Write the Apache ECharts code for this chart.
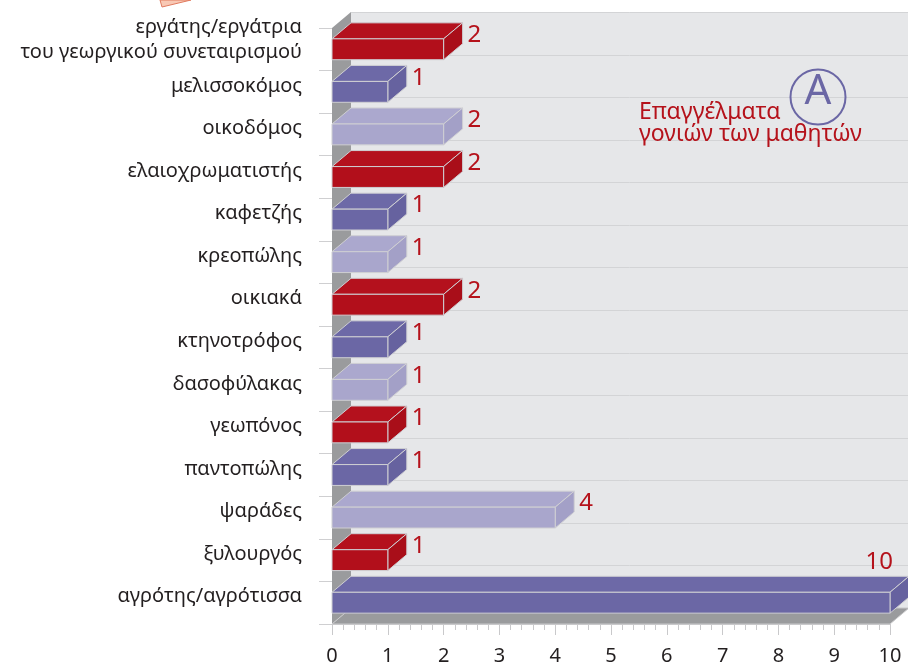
<!DOCTYPE html>
<html>
<head>
<meta charset="utf-8">
<script src="https://cdn.jsdelivr.net/npm/echarts@6/dist/echarts.min.js"></script>
<style>
  html, body { margin: 0; padding: 0; background: #ffffff; }
  #chart { width: 908px; height: 666px; }
</style>
</head>
<body>
<div id="chart"></div>
<script>
// Occupations of the pupils' parents (counts)
const categories = [
  'εργάτης/εργάτρια\nτου γεωργικού συνεταιρισμού',
  'μελισσοκόμος',
  'οικοδόμος',
  'ελαιοχρωματιστής',
  'καφετζής',
  'κρεοπώλης',
  'οικιακά',
  'κτηνοτρόφος',
  'δασοφύλακας',
  'γεωπόνος',
  'παντοπώλης',
  'ψαράδες',
  'ξυλουργός',
  'αγρότης/αγρότισσα'
];
const values = [2, 1, 2, 2, 1, 1, 2, 1, 1, 1, 1, 4, 1, 10];
const xMin = 0;
const xMax = 10;
const xStep = 1;
const titleLines = ['Επαγγέλματα', 'γονιών των μαθητών'];
const badgeLetter = 'Α';

// oblique depth of the 3D boxes
const DX = 19;
const DY = -16;
const FONT = '"Noto Sans", "DejaVu Sans", sans-serif';
const RED = '#b5121b';
const palette = [
  { front: '#b20f1b', top: '#b4111d', side: '#a90e19' },
  { front: '#6b67a5', top: '#6d69a7', side: '#66629f' },
  { front: '#a9a6cc', top: '#aba8ce', side: '#a3a0c7' }
];

const chart = echarts.init(document.getElementById('chart'));

// back wall, left wall, floor and the wall grid lines
function renderFrame(params, api) {
  const band = api.size([0, 1])[1];
  const left = api.coord([xMin, 0])[0];
  const right = api.coord([xMax, 0])[0];
  const yTop = api.coord([xMin, 0])[1] - band / 2;
  const yBot = api.coord([xMin, categories.length - 1])[1] + band / 2;
  const W = api.getWidth();
  const children = [];
  children.push({
    type: 'rect',
    shape: { x: left + DX, y: yTop + DY, width: W - left - DX, height: yBot - yTop },
    style: { fill: '#e6e7e9' }
  });
  for (let k = 0; k <= categories.length; k++) {
    const y = Math.round(yTop + k * band + DY) + 0.5;
    children.push({
      type: 'line',
      shape: { x1: left + DX, y1: y, x2: W, y2: y },
      style: { stroke: '#d3d4d6', lineWidth: 1 }
    });
  }
  children.push({
    type: 'polygon',
    shape: { points: [[left, yTop], [left + DX, yTop + DY], [left + DX, yBot + DY], [left, yBot]] },
    style: { fill: '#9a9b9d' }
  });
  children.push({
    type: 'polygon',
    shape: { points: [[left, yBot], [left + DX, yBot + DY], [right + DX, yBot + DY], [right, yBot]] },
    style: { fill: '#9a9b9d', stroke: '#c9c9cb', lineWidth: 1 }
  });
  return { type: 'group', children: children };
}

// one 3D box per category with its value label
function renderBox(params, api) {
  const v = api.value(0);
  const idx = api.value(1);
  const band = api.size([0, 1])[1];
  const p0 = api.coord([xMin, idx]);
  const p1 = api.coord([v, idx]);
  const h = band * 0.49;
  const x0 = p0[0], x1 = p1[0];
  const top = p0[1] - h / 2, bot = p0[1] + h / 2;
  const c = palette[idx % 3];
  const edge = { stroke: '#cfcfd3', lineWidth: 1, lineJoin: 'round' };
  const children = [
    {
      type: 'polygon',
      shape: { points: [[x0, top], [x1, top], [x1 + DX, top + DY], [x0 + DX, top + DY]] },
      style: Object.assign({ fill: c.top }, edge)
    },
    {
      type: 'polygon',
      shape: { points: [[x1, top], [x1 + DX, top + DY], [x1 + DX, bot + DY], [x1, bot]] },
      style: Object.assign({ fill: c.side }, edge)
    },
    {
      type: 'rect',
      shape: { x: x0, y: top, width: x1 - x0, height: bot - top },
      style: Object.assign({ fill: c.front }, edge)
    }
  ];
  const atEnd = v >= xMax;
  children.push({
    type: 'text',
    x: atEnd ? x1 + 3 : x1 + DX + 5,
    y: atEnd ? top + DY - 14 : p0[1] - 14,
    style: {
      text: String(v),
      fill: RED,
      font: '24px ' + FONT,
      align: atEnd ? 'right' : 'left',
      verticalAlign: 'middle'
    }
  });
  return { type: 'group', children: children };
}

chart.setOption({
  animation: false,
  backgroundColor: '#ffffff',
  grid: { left: 332, right: 18, top: 28, bottom: 39 },
  xAxis: {
    type: 'value',
    min: xMin,
    max: xMax,
    interval: xStep,
    axisLine: { show: true, lineStyle: { color: '#c9c9cb', width: 1 } },
    axisTick: { show: true, length: 11, lineStyle: { color: '#c9c9cb' } },
    minorTick: { show: true, splitNumber: 5, length: 6, lineStyle: { color: '#c9c9cb' } },
    splitLine: { show: false },
    axisLabel: { color: '#231f20', fontSize: 20, fontFamily: FONT, margin: 22 },
    z: 5
  },
  yAxis: {
    type: 'category',
    inverse: true,
    data: categories,
    axisLine: { show: false },
    axisTick: { show: true, length: 13, lineStyle: { color: '#cfcfd1' } },
    splitLine: { show: false },
    axisLabel: {
      interval: 0,
      hideOverlap: false,
      color: '#231f20',
      fontSize: 20,
      fontFamily: FONT,
      margin: 30,
      lineHeight: 25,
      // a short empty trailing line lifts each label to the middle of the box depth
      formatter: (name) => {
        const lines = name.split('\n');
        const lift = lines.length > 1 ? '{lift2| }' : '{lift1| }';
        return lines.join('\n') + '\n' + lift;
      },
      rich: {
        lift1: { fontSize: 4, lineHeight: 12 },
        lift2: { fontSize: 4, lineHeight: 18 }
      }
    }
  },
  graphic: [
    {
      type: 'polygon',
      shape: { points: [[160, 0], [162, 7], [191, 0]] },
      style: { fill: '#f8c8b4', stroke: '#e07a5f', lineWidth: 1 },
      z: 10
    },
    {
      type: 'text',
      left: 639,
      top: 101,
      style: {
        text: titleLines.join('\n'),
        fill: RED,
        font: '23px ' + FONT,
        lineHeight: 22
      },
      z: 10
    },
    {
      type: 'circle',
      shape: { cx: 818, cy: 97, r: 27.5 },
      style: { fill: 'none', stroke: '#6b67a5', lineWidth: 2 },
      z: 10
    },
    {
      type: 'text',
      x: 818,
      y: 92,
      style: {
        text: badgeLetter,
        fill: '#6b67a5',
        font: '42px ' + FONT,
        align: 'center',
        verticalAlign: 'middle'
      },
      z: 10
    }
  ],
  series: [
    {
      type: 'custom',
      name: 'frame',
      renderItem: renderFrame,
      data: [[0, 0]],
      silent: true,
      z: 1
    },
    {
      type: 'custom',
      name: 'Επαγγέλματα',
      renderItem: renderBox,
      encode: { x: 0, y: 1 },
      data: values.map((v, i) => [v, i]),
      z: 3
    }
  ]
});
</script>
</body>
</html>
